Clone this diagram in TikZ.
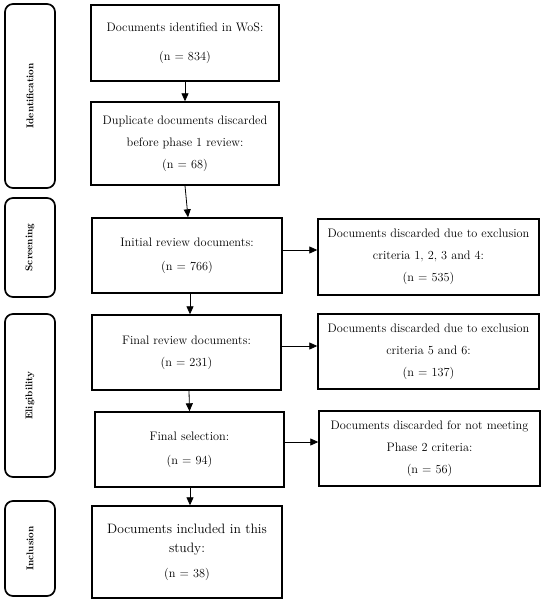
\documentclass[tikz,border=0pt]{standalone}
\usetikzlibrary{arrows.meta}
\begin{document}
\begin{tikzpicture}[x=1pt,y=-1pt,
  box/.style={draw=black,line width=1.4pt,inner sep=0pt,align=center,
    font=\fontsize{12.3}{22}\selectfont},
  phase/.style={draw=black,line width=1.7pt,rounded corners=8pt,inner sep=0pt,
    minimum width=50pt},
  phasetext/.style={rotate=90,font=\fontsize{9.8}{12}\selectfont\bfseries},
  arr/.style={line width=0.8pt,-{Triangle[length=8pt,width=7pt]}}]
\useasboundingbox (0,0) rectangle (550,602);
% phase boxes
\node[phase,minimum height=184pt] (p1) at (30,96) {};
\node[phasetext] (p1t) at (p1.center) {Identification};
\node[phase,minimum height=99pt] (p2) at (30,247.5) {};
\node[phasetext] (p2t) at (p2.center) {Screening};
\node[phase,minimum height=163pt] (p3) at (30,395.5) {};
\node[phasetext] (p3t) at (p3.center) {Eligibility};
\node[phase,minimum height=95pt] (p4) at (30,548.5) {};
\node[phasetext] (p4t) at (p4.center) {Inclusion};
% main boxes
\node[box,minimum width=188pt,minimum height=76pt] (b1) at (185,43)
  {Documents identified in WoS:\\[7pt] (n = 834)};
\node[box,minimum width=188pt,minimum height=83pt] (b2) at (185,143.5)
  {Duplicate documents discarded\\ before phase 1 review:\\ (n = 68)};
\node[box,minimum width=190pt,minimum height=75pt] (b3) at (187,255.5)
  {Initial review documents:\\[2pt] (n = 766)};
\node[box,minimum width=189pt,minimum height=75pt] (b4) at (186.5,352.5)
  {Final review documents:\\ (n = 231)};
\node[box,minimum width=189pt,minimum height=75pt] (b5) at (189.5,449.5)
  {Final selection:\\[2pt] (n = 94)};
\node[box,minimum width=190pt,minimum height=92pt,
  font=\fontsize{13.6}{19}\selectfont] (b6) at (187,552)
  {Documents included in this\\ study:\\[6pt] {\fontsize{12.3}{13}\selectfont (n = 38)}};
% right boxes
\node[box,minimum width=221pt,minimum height=76pt] (r1) at (428.5,257)
  {Documents discarded due to exclusion\\ criteria 1, 2, 3 and 4:\\ (n = 535)};
\node[box,minimum width=221pt,minimum height=75pt] (r2) at (428.5,351.5)
  {Documents discarded due to exclusion\\ criteria 5 and 6:\\ (n = 137)};
\node[box,minimum width=221pt,minimum height=75pt] (r3) at (429.5,448.5)
  {Documents discarded for not meeting\\ Phase 2 criteria:\\ (n = 56)};
% vertical arrows
\draw[arr] (b1.south) -- (b2.north);
\draw[arr] (b2.south) -- ([xshift=1pt]b3.north);
\draw[arr] ([xshift=3pt]b3.south) -- ([xshift=3.5pt]b4.north);
\draw[arr] ([xshift=2.5pt]b4.south) -- (b5.north);
\draw[arr] ([xshift=0.5pt]b5.south) -- ([xshift=3pt]b6.north);
% horizontal arrows
\draw[arr] (b3.east |- 0,250) -- (r1.west |- 0,250);
\draw[arr] (b4.east |- 0,346) -- (r2.west |- 0,346);
\draw[arr] (b5.east |- 0,442) -- (r3.west |- 0,442);
\end{tikzpicture}
\end{document}
